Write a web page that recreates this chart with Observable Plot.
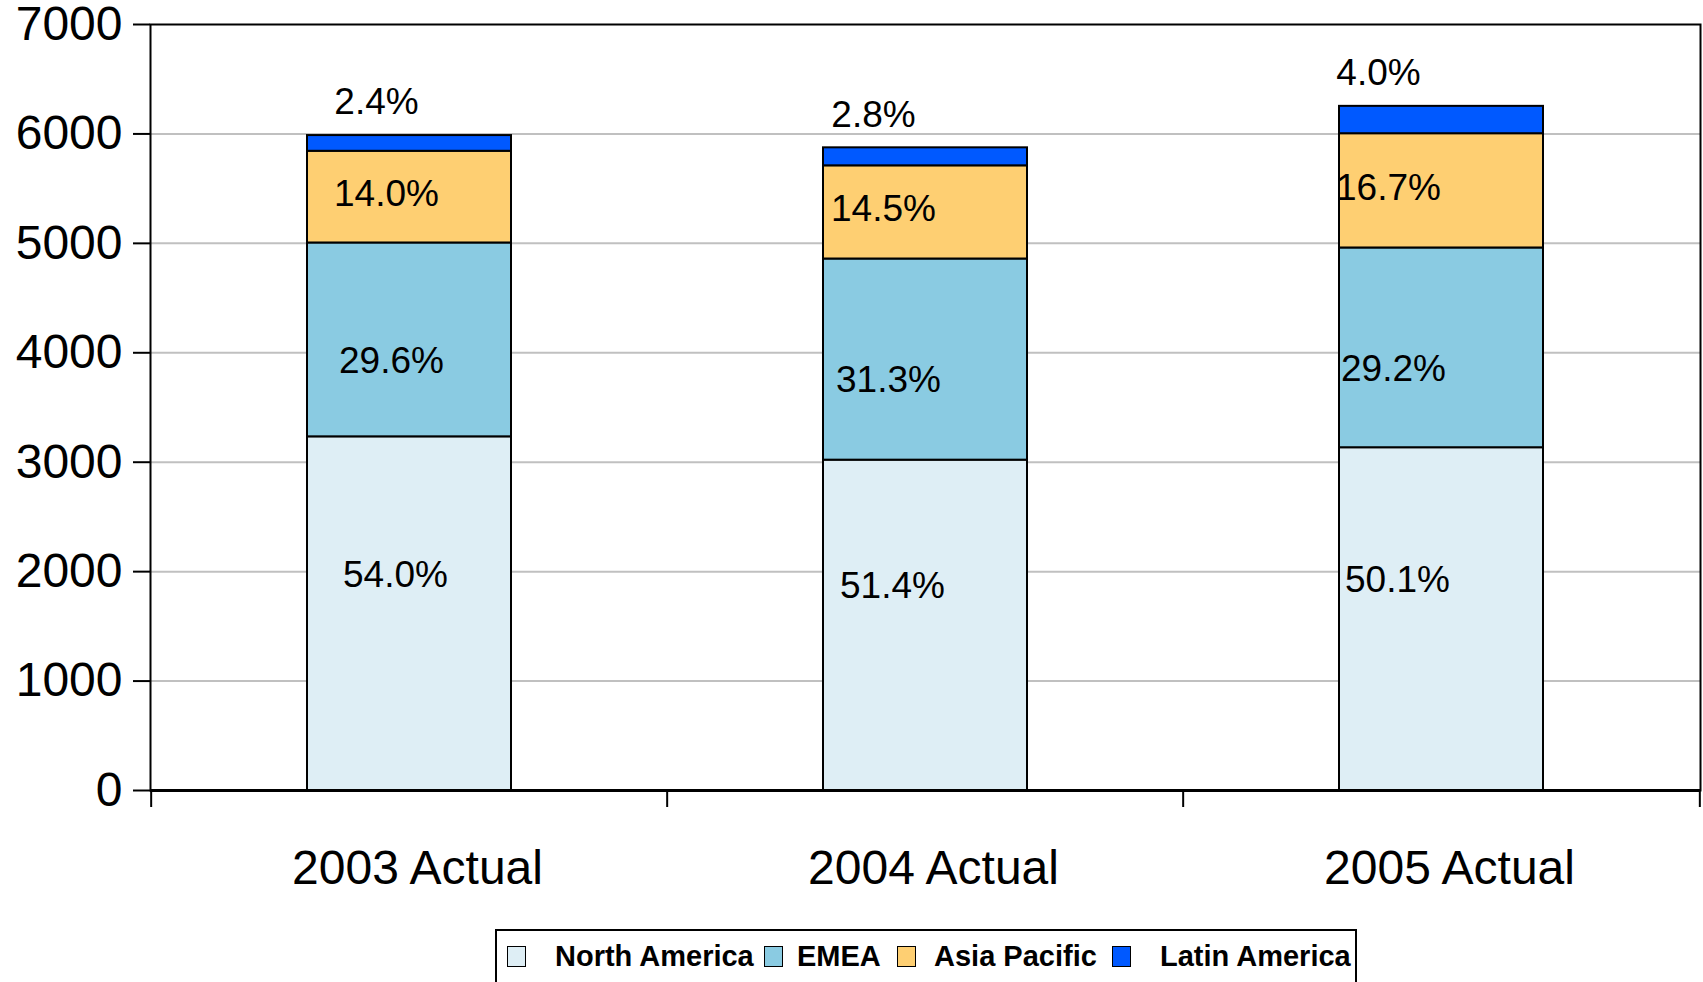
<!DOCTYPE html>
<html>
<head>
<meta charset="utf-8">
<script src="https://cdn.jsdelivr.net/npm/d3@7"></script>
<script src="https://cdn.jsdelivr.net/npm/@observablehq/plot@0.6"></script>
<style>
  html, body { margin: 0; padding: 0; background: #fff; }
  body { width: 1703px; height: 982px; overflow: hidden; position: relative;
         font-family: "Liberation Sans", Arial, sans-serif; }
  #legend { position: absolute; left: 495px; top: 929px; width: 862px; height: 80px;
            border: 2px solid #000; box-sizing: border-box; }
  #legend .sw { position: absolute; top: 15px; width: 19px; height: 21px;
                border: 1.5px solid #000; box-sizing: border-box; }
  #legend .lb { position: absolute; top: 11px; font-size: 29px; line-height: 29px;
                font-weight: bold; color: #000; white-space: nowrap; }
</style>
</head>
<body>
<div id="chart"></div>
<div id="legend"></div>
<script>
// Categories and series
const years = ["2003 Actual", "2004 Actual", "2005 Actual"];
const regions = ["North America", "EMEA", "Asia Pacific", "Latin America"];
const regionColors = ["#DEEEF5", "#8ACBE2", "#FECF72", "#0059FF"];

// Total revenue per year
const totals = [5985, 5873, 6252];

// Share of each region in the yearly total (%)
const northAmerica = [54.0, 51.4, 50.1];
const emea = [29.6, 31.3, 29.2];
const asiaPacific = [14.0, 14.5, 16.7];
const latinAmerica = [2.4, 2.8, 4.0];

// Value axis ticks
const yTicks = [0, 1000, 2000, 3000, 4000, 5000, 6000, 7000];

const shares = [northAmerica, emea, asiaPacific, latinAmerica];

// Stacked segments: each region's value is its share of the year's total
const rows = [];
years.forEach((year, i) => {
  let base = 0;
  regions.forEach((region, r) => {
    const share = shares[r][i];
    const value = totals[i] * share / 100;
    rows.push({
      year, region, yi: i, ri: r, share,
      y1: base, y2: base + value,
      mid: base + value / 2,
      label: share.toFixed(1) + "%"
    });
    base += value;
  });
});

// Layout
const W = 1703, H = 929;
const mL = 150, mR = 3, mT = 24, mB = 139;
const bandWidth = (W - mL - mR) / years.length;

// Label nudges (pixels): per-year horizontal shift plus per-region shift
const yearDx = [-22, -41, -52];
const regionDx = [8, 4, -1, -11];
const regionDy = [-39, 21, -3, -33];

const labelMarks = rows.map(d => Plot.text([d], {
  x: "year",
  y: d.ri === regions.length - 1 ? "y2" : "mid",
  text: "label",
  fontSize: 37,
  fill: "#000",
  dx: yearDx[d.yi] + regionDx[d.ri],
  dy: regionDy[d.ri]
}));

const chart = Plot.plot({
  width: W,
  height: H,
  marginLeft: mL,
  marginRight: mR,
  marginTop: mT,
  marginBottom: mB,
  style: {
    fontFamily: "'Liberation Sans', Arial, sans-serif",
    background: "#fff",
    color: "#000",
    overflow: "visible"
  },
  x: { domain: years, padding: 0, axis: null, label: null },
  y: { domain: [0, 7000], axis: null, label: null },
  color: { domain: regions, range: regionColors },
  marks: [
    Plot.gridY(yTicks.filter(t => t > 0 && t < 7000), {
      stroke: "#c0c0c0", strokeOpacity: 1, strokeWidth: 2
    }),
    Plot.barY(rows, {
      x: "year", y1: "y1", y2: "y2", fill: "region",
      stroke: "#000", strokeWidth: 2,
      insetLeft: 156, insetRight: 156
    }),
    Plot.frame({ stroke: "#000", strokeWidth: 2 }),
    Plot.ruleY([0], { stroke: "#000", strokeWidth: 3 }),
    Plot.axisY(yTicks, {
      tickSize: 17, tickPadding: 11, fontSize: 48,
      tickFormat: d => String(d), strokeWidth: 2, label: null
    }),
    // category names
    Plot.axisX({ tickSize: 0, tickPadding: 59, fontSize: 48, dx: 8, label: null }),
    // tick marks at the category boundaries
    Plot.axisX({ tickSize: 17, text: null, dx: -bandWidth / 2, strokeWidth: 2, label: null }),
    Plot.axisX([years[years.length - 1]], {
      tickSize: 17, text: null, dx: bandWidth / 2, strokeWidth: 2, label: null
    }),
    ...labelMarks
  ]
});
document.getElementById("chart").appendChild(chart);

// Legend below the chart
const legendPos = [
  { sw: 10, lb: 58 },
  { sw: 267, lb: 300 },
  { sw: 400, lb: 437 },
  { sw: 615, lb: 663 }
];
const legend = d3.select("#legend");
regions.forEach((region, r) => {
  legend.append("div").attr("class", "sw")
    .style("left", legendPos[r].sw + "px")
    .style("background", regionColors[r]);
  legend.append("div").attr("class", "lb")
    .style("left", legendPos[r].lb + "px")
    .text(region);
});
</script>
</body>
</html>
